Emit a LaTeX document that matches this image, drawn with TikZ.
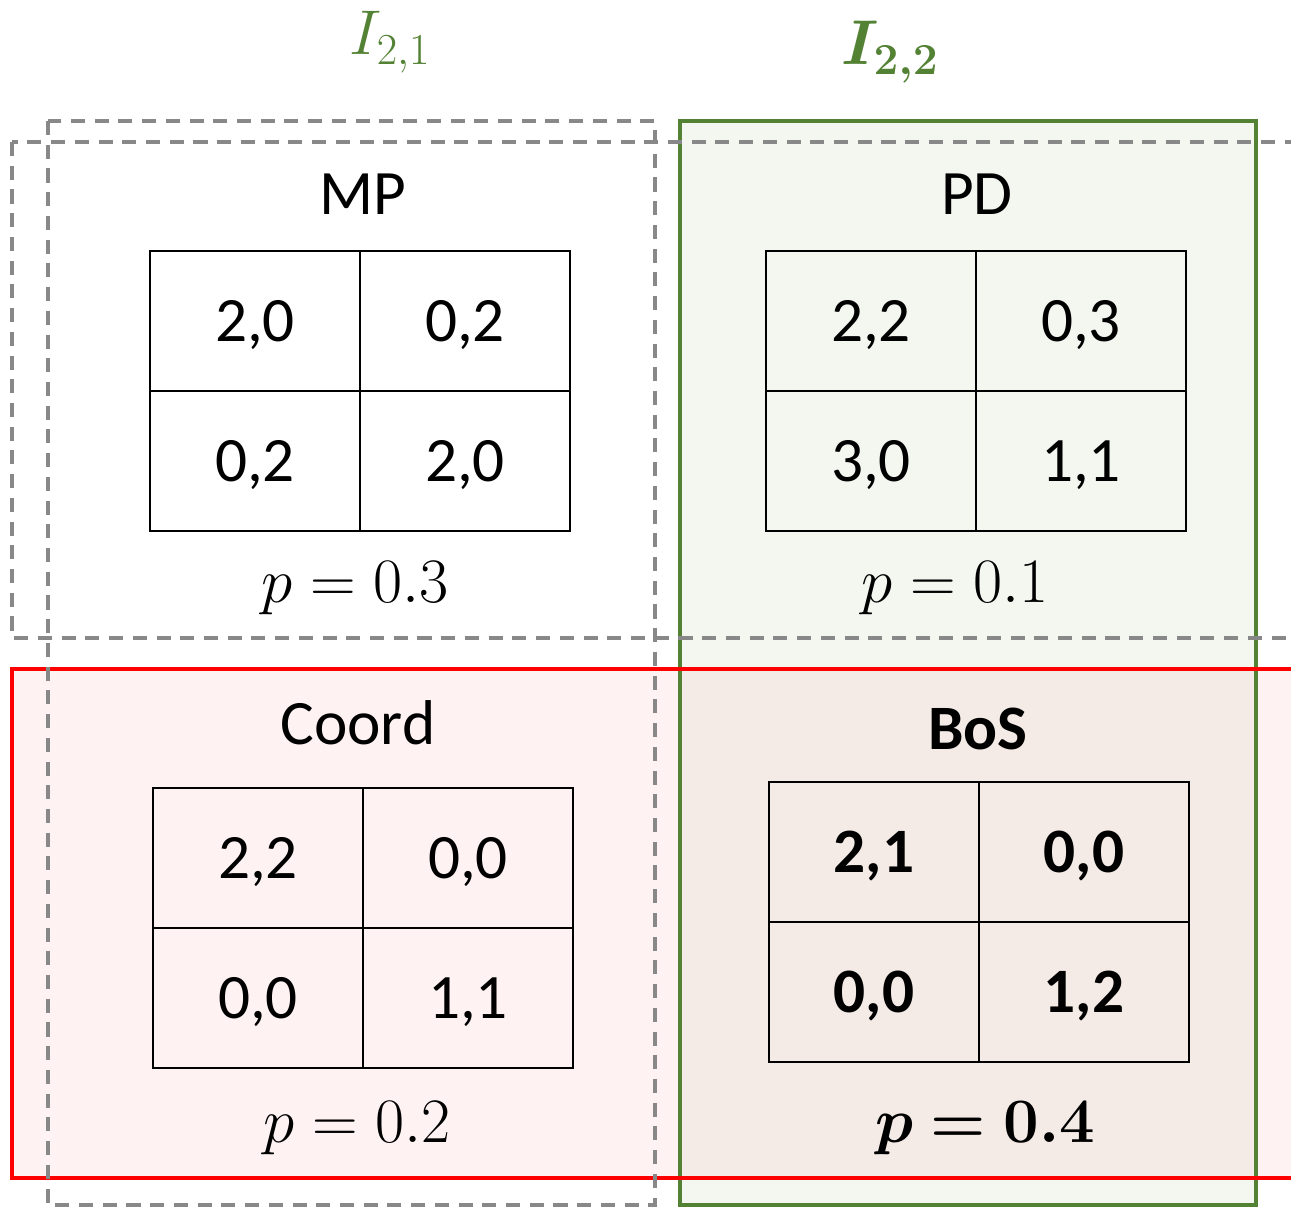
\RequirePackage{fix-cm}
\documentclass[tikz,border=0pt]{standalone}
\usepackage{amsmath}
\usepackage{fontspec}
\setmainfont{Carlito}
\usepackage{bm}
\usetikzlibrary{positioning}
\definecolor{framegray}{HTML}{888888}
\definecolor{framegreen}{HTML}{548235}
\definecolor{fillgreen}{RGB}{244,247,240}
\definecolor{fillpink}{RGB}{254,242,242}
\definecolor{fillboth}{RGB}{244,235,230}
\begin{document}
\begin{tikzpicture}[
  cell/.style={draw,line width=1.2pt,minimum width=4.2cm,minimum height=2.8cm,
    inner sep=0pt,outer sep=0pt,text depth=0pt,font=\fontsize{36}{40}\selectfont},
  title/.style={anchor=base,font=\fontsize{36}{40}\selectfont},
  prob/.style={anchor=base,font=\fontsize{36}{40}\selectfont},
  infoset/.style={anchor=base,text=framegreen,font=\fontsize{36}{40}\selectfont},
  grayframe/.style={draw=framegray,line width=2pt,dash pattern=on 8pt off 5.5pt},
]
\useasboundingbox (0,0) rectangle (25.82,-24.14);

% Information sets: fills
\fill[fillgreen] (13.6,-2.42) rectangle (25.12,-24.1);
\fill[fillpink] (0.24,-13.38) rectangle (26.2,-23.56);
\fill[fillboth] (13.6,-13.38) rectangle (25.12,-23.56);

% Information sets: borders
\draw[framegreen,line width=2pt] (13.6,-2.42) rectangle (25.12,-24.1);
\draw[red,line width=2.2pt] (0.24,-13.38) rectangle (26.2,-23.56);
\draw[grayframe] (0.96,-2.42) rectangle (13.1,-24.1);
\draw[grayframe] (0.24,-2.84) rectangle (26.2,-12.76);

% Labels of player 2 information sets
\node[infoset] (i21) at (7.8,-1.1) {$I_{2,1}$};
\node[infoset] (i22) at (17.8,-1.3) {$\bm{I_{2,2}}$};

% MP
\node[title] (mp) at (7.26,-4.3) {MP};
\node[cell] (mp11) at (5.1,-6.42) {2,0};
\node[cell,right=0pt of mp11] (mp12) {0,2};
\node[cell,below=0pt of mp11] (mp21) {0,2};
\node[cell,right=0pt of mp21] (mp22) {2,0};
\node[prob] (pmp) at (7.1,-12.06) {$p = 0.3$};

% PD
\node[title] (pd) at (19.54,-4.3) {PD};
\node[cell] (pd11) at (17.42,-6.42) {2,2};
\node[cell,right=0pt of pd11] (pd12) {0,3};
\node[cell,below=0pt of pd11] (pd21) {3,0};
\node[cell,right=0pt of pd21] (pd22) {1,1};
\node[prob] (ppd) at (19.1,-12.06) {$p = 0.1$};

% Coord
\node[title] (co) at (7.16,-14.9) {Coord};
\node[cell] (co11) at (5.16,-17.16) {2,2};
\node[cell,right=0pt of co11] (co12) {0,0};
\node[cell,below=0pt of co11] (co21) {0,0};
\node[cell,right=0pt of co21] (co22) {1,1};
\node[prob] (pco) at (7.14,-22.84) {$p = 0.2$};

% BoS
\node[title] (bos) at (19.56,-15.0) {\bfseries BoS};
\node[cell] (bos11) at (17.48,-17.04) {\bfseries 2,1};
\node[cell,right=0pt of bos11] (bos12) {\bfseries 0,0};
\node[cell,below=0pt of bos11] (bos21) {\bfseries 0,0};
\node[cell,right=0pt of bos21] (bos22) {\bfseries 1,2};
\node[prob] (pbos) at (19.7,-22.84) {$\bm{p = 0.4}$};
\end{tikzpicture}
\end{document}
